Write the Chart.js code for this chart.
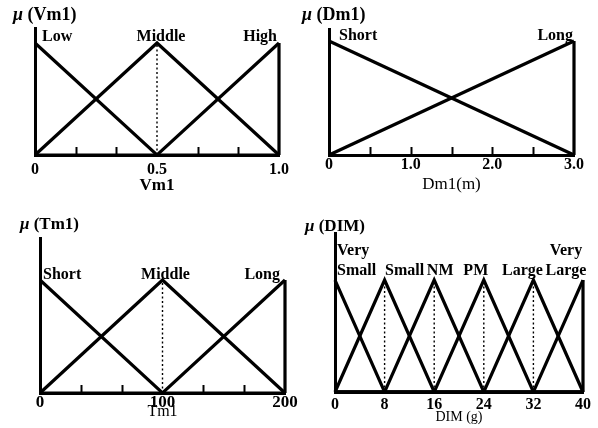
<!DOCTYPE html>
<html><head><meta charset="utf-8">
<script src="https://cdn.jsdelivr.net/npm/chart.js@4/dist/chart.umd.min.js"></script>
<style>
html,body{margin:0;padding:0;background:#fff;}
#wrap{position:relative;width:598px;height:428px;overflow:hidden;background:#fff;}
canvas{position:absolute;}
</style></head><body>
<div id="wrap">
<canvas id="c1" style="left:0px;top:0px" width="300" height="200"></canvas>
<canvas id="c2" style="left:300px;top:0px" width="298" height="200"></canvas>
<canvas id="c3" style="left:0px;top:200px" width="300" height="228"></canvas>
<canvas id="c4" style="left:300px;top:200px" width="298" height="228"></canvas>
</div>
<script>
// ---- Panel 1: Vm1 ----
const vmSets = ['Low', 'Middle', 'High'];
const vmBreaks = [0, 0.5, 1.0];
const vmLow = [1, 0, 0];
const vmMiddle = [0, 1, 0];
const vmHigh = [0, 0, 1];
const vmTickVals = [0, 0.5, 1.0];
const vmTickLabels = ['0', '0.5', '1.0'];
const vmMinor = [0.167, 0.333, 0.667, 0.833];

// ---- Panel 2: Dm1 ----
const dmSets = ['Short', 'Long'];
const dmBreaks = [0, 3.0];
const dmShort = [1, 0];
const dmLong = [0, 1];
const dmTickVals = [0, 1.0, 2.0, 3.0];
const dmTickLabels = ['0', '1.0', '2.0', '3.0'];
const dmMinor = [0.5, 1.0, 1.5, 2.0, 2.5];

// ---- Panel 3: Tm1 ----
const tmSets = ['Short', 'Middle', 'Long'];
const tmBreaks = [0, 100, 200];
const tmShort = [1, 0, 0];
const tmMiddle = [0, 1, 0];
const tmLong = [0, 0, 1];
const tmTickVals = [0, 100, 200];
const tmTickLabels = ['0', '100', '200'];
const tmMinor = [33.3, 66.7, 133.3, 166.7];

// ---- Panel 4: DIM ----
const dimSets = ['Very Small', 'Small', 'NM', 'PM', 'Large', 'Very Large'];
const dimBreaks = [0, 8, 16, 24, 32, 40];
const dimVerySmall = [1, 0, 0, 0, 0, 0];
const dimSmall = [0, 1, 0, 0, 0, 0];
const dimNM = [0, 0, 1, 0, 0, 0];
const dimPM = [0, 0, 0, 1, 0, 0];
const dimLarge = [0, 0, 0, 0, 1, 0];
const dimVeryLarge = [0, 0, 0, 0, 0, 1];
const dimTickVals = [0, 8, 16, 24, 32, 40];
const dimTickLabels = ['0', '8', '16', '24', '32', '40'];
const dimMinor = [];

const SERIF = '"Liberation Serif", "DejaVu Serif", serif';

const decor = {
  id: 'decor',
  afterDatasetsDraw(chart, args, o) {
    const {ctx, chartArea: ca, scales: {x, y}} = chart;
    ctx.save();
    ctx.strokeStyle = '#000';
    ctx.fillStyle = '#000';
    ctx.lineWidth = 2;
    const y0 = y.getPixelForValue(0);
    (o.minor || []).forEach(v => {
      const px = Math.round(x.getPixelForValue(v)) + 0.5;
      ctx.beginPath(); ctx.moveTo(px, y0); ctx.lineTo(px, y0 - o.minorLen); ctx.stroke();
    });
    ctx.font = o.labelFont;
    const py = y.getPixelForValue(1) - o.labelLift;
    o.sets.forEach((name, i) => {
      const L = o.layout[i];
      const px = x.getPixelForValue(o.breaks[i]) + L[1];
      ctx.textAlign = L[0];
      ctx.textBaseline = 'alphabetic';
      const lines = o.wrap ? name.split(' ') : [name];
      lines.forEach((t, k) => ctx.fillText(t, px, py - (lines.length - 1 - k) * o.lineGap));
    });
    // y title
    ctx.textAlign = 'left';
    ctx.textBaseline = 'middle';
    let tx = ca.left + o.ytDx;
    ctx.font = 'italic bold ' + o.ytSize + 'px ' + SERIF;
    ctx.fillText('\u03bc', tx, o.ytY);
    tx += ctx.measureText('\u03bc').width;
    ctx.font = 'bold ' + o.ytSize + 'px ' + SERIF;
    ctx.fillText(' (' + o.ytText + ')', tx, o.ytY);
    ctx.restore();
  }
};

function makePanel(id, p) {
  const datasets = [];
  const n = p.breaks.length;
  const xmax = p.breaks[n - 1];
  p.values.forEach((vals, si) => {
    const pts = p.breaks.map((b, i) => ({x: b, y: vals[i]}));
    datasets.push({label: p.sets[si], data: pts});
  });
  // right edge drop of last set
  const last = p.values[p.values.length - 1];
  datasets.push({label: 'edge', data: [{x: xmax, y: last[n - 1]}, {x: xmax, y: 0}]});
  // dotted verticals under interior peaks
  for (let i = 1; i < n - 1; i++) {
    datasets.push({label: 'dot' + i, data: [{x: p.breaks[i], y: 0}, {x: p.breaks[i], y: 1}],
      borderWidth: 1.4, borderDash: [2, 2.5]});
  }
  datasets.forEach(d => {
    d.showLine = true; d.pointRadius = 0; d.borderColor = '#000';
    if (d.borderWidth === undefined) d.borderWidth = 3.2;
    d.clip = false; d.tension = 0; d.fill = false;
    d.borderJoinStyle = 'miter';
  });
  return new Chart(document.getElementById(id), {
    type: 'scatter',
    data: {datasets},
    options: {
      responsive: false, animation: false, events: [],
      layout: {padding: p.pad},
      plugins: {
        legend: {display: false}, tooltip: {enabled: false}, title: {display: false},
        decor: p.decor
      },
      scales: {
        x: {
          type: 'linear', min: p.breaks[0], max: xmax,
          grid: {display: false},
          border: {display: true, color: '#000', width: 3},
          afterBuildTicks: s => { s.ticks = p.tickVals.map(v => ({value: v})); },
          afterFit: s => { s.height = p.xHeight; },
          ticks: {
            color: '#000', padding: p.tickPad, maxRotation: 0, autoSkip: false,
            font: {family: SERIF, size: p.tickSize, weight: 'bold'},
            callback: (v) => { const i = p.tickVals.indexOf(v); return i >= 0 ? p.tickLabels[i] : ''; }
          },
          title: {
            display: true, text: p.xTitle, color: '#000', padding: 0,
            font: {family: SERIF, size: p.titleSize, weight: p.titleWeight}
          }
        },
        y: {
          type: 'linear', min: 0, max: p.ymax,
          grid: {display: false},
          border: {display: true, color: '#000', width: 3},
          ticks: {display: false},
          afterFit: s => { s.width = 0; }
        }
      }
    },
    plugins: [decor]
  });
}

makePanel('c1', {
  sets: vmSets, breaks: vmBreaks, values: [vmLow, vmMiddle, vmHigh],
  tickVals: vmTickVals, tickLabels: vmTickLabels, xTitle: 'Vm1',
  ymax: 1.134, pad: {left: 35, right: 21, top: 28, bottom: 4}, xHeight: 41,
  tickPad: -3, tickSize: 16, titleSize: 17, titleWeight: 'bold',
  decor: {sets: vmSets, breaks: vmBreaks, minor: vmMinor, minorLen: 8,
    labelFont: 'bold 16px ' + SERIF, labelLift: 2, lineGap: 20, wrap: false,
    layout: [['left', 7], ['center', 4], ['right', -2]],
    ytText: 'Vm1', ytDx: -22, ytY: 15, ytSize: 18}
});

makePanel('c2', {
  sets: dmSets, breaks: dmBreaks, values: [dmShort, dmLong],
  tickVals: dmTickVals, tickLabels: dmTickLabels, xTitle: 'Dm1(m)',
  ymax: 1.105, pad: {left: 29, right: 24, top: 29, bottom: 5}, xHeight: 40,
  tickPad: -8, tickSize: 16, titleSize: 17, titleWeight: 'normal',
  decor: {sets: dmSets, breaks: dmBreaks, minor: dmMinor, minorLen: 8,
    labelFont: 'bold 16px ' + SERIF, labelLift: 1, lineGap: 20, wrap: false,
    layout: [['left', 10], ['right', -1]],
    ytText: 'Dm1', ytDx: -27, ytY: 15, ytSize: 18}
});

makePanel('c3', {
  sets: tmSets, breaks: tmBreaks, values: [tmShort, tmMiddle, tmLong],
  tickVals: tmTickVals, tickLabels: tmTickLabels, xTitle: 'Tm1',
  ymax: 1.372, pad: {left: 40, right: 15, top: 38, bottom: 7}, xHeight: 28,
  tickPad: -9, tickSize: 17, titleSize: 16, titleWeight: 'normal',
  decor: {sets: tmSets, breaks: tmBreaks, minor: tmMinor, minorLen: 8,
    labelFont: 'bold 16px ' + SERIF, labelLift: 1, lineGap: 20, wrap: false,
    layout: [['left', 3], ['center', 3], ['right', -5]],
    ytText: 'Tm1', ytDx: -20, ytY: 25, ytSize: 17}
});

makePanel('c4', {
  sets: dimSets, breaks: dimBreaks,
  values: [dimVerySmall, dimSmall, dimNM, dimPM, dimLarge, dimVeryLarge],
  tickVals: dimTickVals, tickLabels: dimTickLabels, xTitle: 'DIM (g)',
  ymax: 1.42, pad: {left: 35, right: 15, top: 33, bottom: 2}, xHeight: 34,
  tickPad: -5, tickSize: 16, titleSize: 14, titleWeight: 'normal',
  decor: {sets: dimSets, breaks: dimBreaks, minor: dimMinor, minorLen: 8,
    labelFont: 'bold 16px ' + SERIF, labelLift: 5, lineGap: 20, wrap: true,
    layout: [['left', 2], ['center', 20], ['center', 6], ['center', -8], ['center', -11], ['center', -17]],
    ytText: 'DIM', ytDx: -30, ytY: 27, ytSize: 17}
});
</script>
</body></html>
